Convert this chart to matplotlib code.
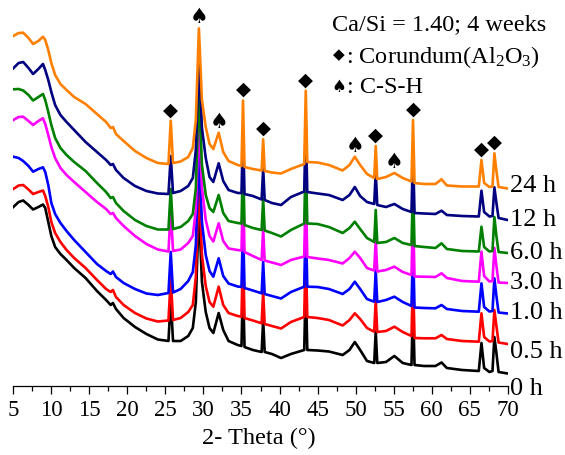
import numpy as np
import matplotlib.pyplot as plt

plt.rcParams['font.family'] = 'Liberation Serif'
plt.rcParams['mathtext.fontset'] = 'custom'
plt.rcParams['mathtext.rm'] = 'Liberation Serif'
plt.rcParams['mathtext.default'] = 'regular'

# 2-theta positions (deg) where the patterns were read
two_theta = [5.0, 5.7, 6.3, 7.0, 7.6, 8.3, 8.9, 9.2, 9.6, 10.0, 10.5, 11.2, 12.0, 13.0,
             14.5, 16.0, 17.2, 17.8, 18.1, 18.5, 19.5, 21.0, 22.5, 24.0, 25.4, 25.7,
             26.0, 27.0, 28.0, 28.6, 29.0, 29.4, 29.8, 30.3, 30.8, 31.3, 32.0, 32.6,
             33.3, 34.5, 35.0, 35.2, 35.4, 36.5, 37.65, 37.85, 38.05, 39.0, 40.2, 41.5,
             43.25, 43.45, 43.65, 45.0, 46.5, 48.3, 49.2, 49.9, 50.6, 51.5, 52.45, 52.65,
             52.85, 54.0, 55.1, 56.2, 57.35, 57.55, 57.75, 59.0, 60.5, 61.3, 62.0, 64.0,
             66.2, 66.55, 66.9, 67.6, 68.0, 68.25, 68.5, 68.8, 70.0]

# intensities (a.u., curves already stacked)
i_0h = [179, 184, 185.5, 181, 176.5, 179, 181.5, 178, 164, 150, 139, 132, 126, 118,
        108, 95, 86, 81, 83, 77, 68, 59, 52, 46.5, 45, 87,
        45, 45, 50, 58, 84, 179, 104, 74, 58, 53, 73, 56,
        45, 41, 40, 104, 39, 36, 34, 66, 34, 32, 28, 32,
        36, 107, 36, 35.5, 34.5, 31, 36, 44, 36, 25, 23, 55,
        23, 24, 30, 23, 21, 83, 21, 20, 20, 23.5, 18, 16,
        15, 43, 18, 14, 15, 49, 34, 14, 12.5]
i_05h = [197, 200.5, 201, 196.5, 192, 194, 195.5, 190, 179, 164, 153, 144, 136, 128,
         118, 106, 97, 94, 96, 89, 81, 73, 67.5, 64.5, 65.5, 108,
         66, 68, 74, 81, 109, 205, 131, 100, 84, 79.3, 99.3, 81,
         73, 70, 69.3, 134, 68, 65.5, 62.7, 94, 62, 60, 57.5, 64,
         69, 140, 69, 68, 66, 60.5, 66, 72.7, 67, 58, 54.3, 86,
         54, 55, 59.3, 54, 50, 111, 48, 47.7, 47.7, 51, 47, 45,
         44.3, 72.7, 49, 44.5, 45, 76, 61, 43.5, 42]
i_1h = [229.3, 228, 225, 220, 214.3, 217, 218.7, 214, 201, 183, 172, 163, 155, 146,
        134, 122, 115, 112, 114.5, 109, 103, 97, 92.5, 91, 93, 134,
        93.5, 97, 105, 114, 141, 234, 164, 131, 115, 109.3, 127.7, 110,
        102.5, 99.5, 99, 164, 98, 95.5, 92.7, 124, 92, 90, 87.5, 94,
        99.3, 170, 99.3, 99, 97, 92, 97, 104.3, 97, 87, 84.3, 116,
        84, 86, 89.3, 84, 80, 141, 78.5, 78, 77.7, 81, 77, 75,
        74.3, 102.7, 79, 74.5, 75, 107.7, 91, 73.5, 72.5]
i_3h = [266, 269, 269.3, 265, 261, 265, 267.7, 262, 251, 239, 228, 218, 211, 204,
        194, 184, 177, 172, 173, 168, 160, 150, 142, 136.5, 134.5, 176,
        135, 136.5, 143, 150, 176, 268, 198, 166, 150, 144.5, 162.7, 145,
        137.5, 136, 135.5, 200, 134, 130, 126, 157, 125.5, 123.5, 121, 126,
        129.5, 201, 129, 127.5, 126, 122.5, 128, 134.3, 128, 118, 115.5, 147,
        114.5, 116, 119.3, 114, 111, 173, 109.5, 109.3, 109, 112.7, 108, 105,
        104.3, 134.3, 110, 104.5, 105, 138, 121, 103.5, 103]
i_6h = [296.7, 297, 295.5, 291, 285.5, 289, 292, 286, 274, 261, 248, 238, 231, 224,
        215, 203, 194, 188, 189, 183, 175, 166, 160, 156.5, 156.5, 197,
        157, 159, 165, 172, 198, 296, 221, 191, 178, 174, 191, 173,
        165, 163, 162.5, 227, 161, 158, 156, 187, 155.5, 153, 149.5, 156,
        162.5, 234, 162.5, 162, 159, 153, 158, 164.3, 157, 148, 144, 176,
        143, 144, 148, 143, 141, 203, 140, 139, 138, 142.7, 137, 135,
        134.5, 159.3, 139, 134.5, 135, 169, 151, 134, 133]
i_12h = [317.7, 323, 324, 318, 312, 317, 322, 316, 306, 294, 281, 271, 264, 256,
         244, 234, 226, 221, 222, 216, 208, 200, 195, 192.5, 192, 230,
         193, 195, 200, 208, 236, 327.7, 258, 228, 209, 204, 222.7, 205,
         196, 193, 193, 256, 192, 190, 186.5, 217.7, 186, 183, 181, 189,
         194.5, 265, 194, 192.5, 191, 186, 191, 199, 190, 184, 182, 214,
         181, 179, 182, 177, 174, 235, 173, 172.5, 172, 175.3, 171, 170,
         169.5, 195.3, 174, 169.5, 170, 198.7, 184, 168, 166]
i_24h = [350, 353, 353.3, 348, 342, 345, 349.3, 346, 336, 323, 311, 302, 296, 289,
         282, 272, 264, 258, 259, 252, 245, 235, 228, 223, 222, 265.3,
         223, 224.5, 229, 238, 266, 357.7, 286, 259, 242, 237, 253.3, 234,
         225, 221, 220, 285.5, 219, 217, 215.5, 246.7, 215, 213.5, 212.5, 217,
         222, 295.3, 224, 223.5, 221, 215.5, 221, 229.3, 221, 212, 208, 240,
         207, 209, 213, 208, 204.5, 266, 203, 202, 202, 206.7, 200.5, 199.5,
         199.5, 226, 203, 199, 199.5, 232.7, 216, 199, 197.5]

times = ['0 h', '0.5 h', '1.0 h', '3.0 h', '6.0 h', '12 h', '24 h']
patterns = [i_0h, i_05h, i_1h, i_3h, i_6h, i_12h, i_24h]
colors = ['black', 'red', 'blue', 'magenta', 'green', 'navy', '#ff8000']
label_y = [-3, 34, 73, 103, 133, 166, 200]

# phase marks above the peaks
mark_pos = [25.7, 29.4, 32.0, 35.2, 37.85, 43.45, 49.9, 52.65, 55.1, 57.55, 66.55, 68.25]
mark_sym = ['◆', '♠', '♠', '◆', '◆', '◆', '♠', '◆', '♠', '◆', '◆', '◆']

fig = plt.figure(figsize=(5.65, 4.55), dpi=100)
ax = fig.add_axes([13.3 / 565, 69 / 455, 494.4 / 565, 386 / 455])

for vals, c in zip(patterns, colors):
    ax.plot(two_theta, vals, color=c, lw=1.9, solid_joinstyle='round')

ax.set_xlim(5, 70)
ax.set_ylim(0, 386)
for s in ['left', 'right', 'top']:
    ax.spines[s].set_visible(False)
ax.spines['bottom'].set_linewidth(0.9)
ax.set_yticks([])
ax.set_xticks(np.arange(5, 71, 5))
ax.set_xticks(np.arange(7.5, 70, 5), minor=True)
ax.tick_params(axis='x', which='major', direction='out', length=5.8, width=0.9,
               labelsize=16.5, pad=4.5)
ax.tick_params(axis='x', which='minor', direction='out', length=3.3, width=0.9)

for name, yy in zip(times, label_y):
    ax.text(70.3, yy, name, ha='left', va='center', fontsize=19, clip_on=False)

tt = np.array(two_theta)
top = np.array(i_24h)
for p, sym in zip(mark_pos, mark_sym):
    ymax = top[np.abs(tt - p) < 0.3].max()
    ax.text(p, ymax + 11, sym, ha='center', va='center', family='DejaVu Sans',
            fontsize=15 if sym == '♠' else 14)

fig.text(259 / 565, 1 - 438 / 455, '2- Theta (°)', ha='center', va='center', fontsize=17.5)
fig.text(331.7 / 565, 1 - 30 / 455, 'Ca/Si = 1.40; 4 weeks', va='baseline', fontsize=17.5)
fig.text(338.5 / 565, 1 - 55 / 455, '◆', ha='center', va='center', family='DejaVu Sans', fontsize=11)
fig.text(346 / 565, 1 - 62.7 / 455, ': Corundum(Al$_2$O$_3$)', va='baseline', fontsize=17.5)
fig.text(338.5 / 565, 1 - 87.3 / 455, '♠', ha='center', va='center', family='DejaVu Sans', fontsize=12)
fig.text(347 / 565, 1 - 92.7 / 455, ': C-S-H', va='baseline', fontsize=17.5)

fig.savefig('out.png', dpi=100)
